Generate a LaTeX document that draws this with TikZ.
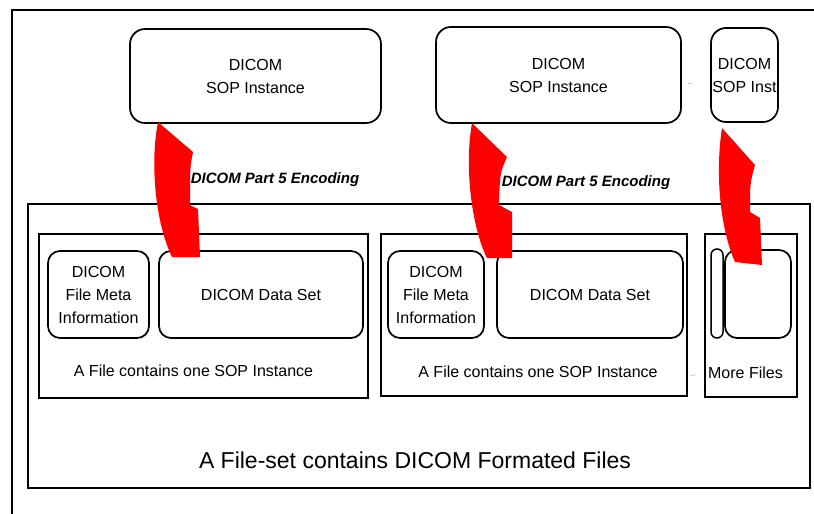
\documentclass[tikz,border=0pt]{standalone}
\usepackage{fontspec}
\setmainfont{Liberation Sans}
\usetikzlibrary{positioning,calc}

\tikzset{
  sopbox/.style={draw, line width=1.7pt, rounded corners=15pt, align=center, inner sep=0pt,
    font=\fontsize{16}{23}\selectfont},
  partbox/.style={draw, line width=1.7pt, rounded corners=12pt, align=center, inner sep=0pt,
    font=\fontsize{16}{23}\selectfont},
  filebox/.style={draw, line width=1.8pt, inner sep=0pt},
  captxt/.style={font=\fontsize{16}{20}\selectfont},
  enctxt/.style={font=\fontsize{15}{18}\selectfont\bfseries\itshape},
  dotstxt/.style={font=\fontsize{6}{6}\selectfont, gray!70!black},
}

\begin{document}
\begin{tikzpicture}[x=1pt, y=-1pt]
\useasboundingbox (0,0) rectangle (814,514);
% Frame
\draw[line width=1.3pt] (814,10) -- (12,10) -- (12,514);

% File-set
\node[filebox, minimum width=782pt, minimum height=284pt] (fileset) at (419,346) {};
\node[font=\fontsize{23}{26}\selectfont] (setlabel) at (415,460) {A File-set contains DICOM Formated Files};

% First file
\node[filebox, minimum width=329pt, minimum height=164pt] (file1) at (203.5,316) {};
\node[partbox, minimum width=101pt, minimum height=87pt] (meta1) at (98.5,294.5) {DICOM\\File Meta\\Information};
\node[partbox, minimum width=204pt, minimum height=87pt] (data1) at (261,294.5) {DICOM Data Set};
\node[captxt] (cap1) at (193.5,371) {A File contains one SOP Instance};

% Second file
\node[filebox, minimum width=306pt, minimum height=162pt] (file2) at (534,315) {};
\node[partbox, minimum width=96pt, minimum height=87pt] (meta2) at (436,294.5) {DICOM\\File Meta\\Information};
\node[partbox, minimum width=186pt, minimum height=87pt] (data2) at (590,294.5) {DICOM Data Set};
\node[captxt] (cap2) at (538,372) {A File contains one SOP Instance};
\node[dotstxt] (dots2) at (693,376) {...};

% More files
\node[filebox, minimum width=92pt, minimum height=163pt] (more) at (751,315.5) {};
\node[draw, line width=1.5pt, rounded corners=6pt, minimum width=12pt, minimum height=89pt, inner sep=0pt] (thin3) at (717,293.5) {};
\node[partbox, minimum width=66pt, minimum height=88pt] (data3) at (758,294) {};
\node[captxt] (cap3) at (745.5,373) {More Files};

% SOP instances
\node[sopbox, minimum width=251pt, minimum height=94pt] (sop1) at (255.5,76) {DICOM\\SOP Instance};
\node[sopbox, minimum width=245pt, minimum height=96pt] (sop2) at (558.5,75) {DICOM\\SOP Instance};
\node[sopbox, minimum width=67pt, minimum height=94pt] (sop3) at (744.5,75) {DICOM\\SOP Inst};
\node[dotstxt] (dots1) at (690,84) {...};

% Encoding arrows
\fill[red, shift={(158,122)}] (0,0) -- (35,30) .. controls (32,45) .. (32,83) -- (40,87) -- (42,135)
    -- (14,135) .. controls (-3,100) and (-8,40) .. (0,0) -- cycle;
\fill[red, shift={(472,123)}] (0,0) -- (35,34) .. controls (28,50) .. (27,82) -- (40,89) -- (40,135)
    -- (15,135) .. controls (0,105) and (-8,45) .. (0,0) -- cycle;
\fill[red, shift={(722,128)}] (0,0) -- (33,37) .. controls (28,55) .. (28,84) -- (38,90) -- (40,137)
    -- (13,134) .. controls (-2,100) and (-7,45) .. (0,0) -- cycle;

\node[enctxt] (enc1) at (275,180) {DICOM Part 5 Encoding};
\node[enctxt] (enc2) at (586,183) {DICOM Part 5 Encoding};
\end{tikzpicture}
\end{document}
